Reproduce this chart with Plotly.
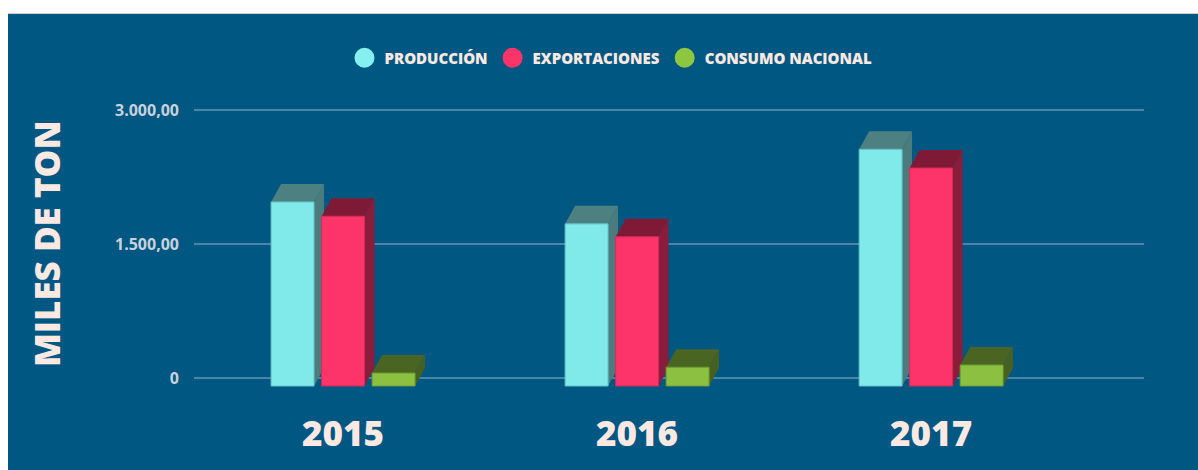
import plotly.graph_objects as go

# ---- data (miles de toneladas) ----
years = ["2015", "2016", "2017"]
series_names = ["PRODUCCIÓN", "EXPORTACIONES", "CONSUMO NACIONAL"]
produccion = [2060, 1815, 2650]
exportaciones = [1900, 1670, 2440]
consumo_nacional = [145, 210, 235]
y_tick_values = [0, 1500, 3000]
y_tick_labels = ["0", "1.500,00", "3.000,00"]

series_values = [produccion, exportaciones, consumo_nacional]

# ---- styling ----
BG_BLUE = "#005782"
GRID = "#4a85a8"
TEXT_LIGHT = "#fde9e2"
TICK_GREY = "#c8d2db"
FONT = "Open Sans"

FRONT = ["#80e9e9", "#fd3469", "#8bc040"]
EDGE = ["#62c4c8", "#d82a5a", "#6f9c30"]
TOP = ["#4d8081", "#7f1a36", "#4a6522"]
SIDE = ["#4a7c7d", "#8a1c3c", "#456020"]
LEGEND_DOT = ["#86eff0", "#fd3469", "#8dc63f"]

W, H = 1198, 470
M_L, M_R, M_T, M_B = 194, 54, 90, 60
X_RANGE = [-0.507, 2.724]
Y_RANGE = [-358.2, 3224.0]
plot_w = W - M_L - M_R
plot_h = H - M_T - M_B
px_per_x = plot_w / (X_RANGE[1] - X_RANGE[0])
px_per_y = plot_h / (Y_RANGE[1] - Y_RANGE[0])

BAR_PITCH = 0.1718
BAR_WIDTH = 0.146
DEPTH_DX = 10 / px_per_x      # 3D depth, horizontal
DEPTH_DY = 18 / px_per_y      # 3D depth, vertical
BASE = -8 / px_per_y          # front faces sit slightly in front of the floor


def paper_x(px):
    return (px - M_L) / plot_w


def paper_y(py):
    return 1 - (py - M_T) / plot_h


group_x = list(range(len(years)))

fig = go.Figure()
shapes = []

# framed blue panel
shapes.append(dict(type="rect", xref="paper", yref="paper",
                   x0=paper_x(8), x1=paper_x(W + 2), y0=paper_y(H + 2), y1=paper_y(14),
                   fillcolor=BG_BLUE, line=dict(width=0), layer="below"))
shapes.append(dict(type="line", xref="paper", yref="paper",
                   x0=paper_x(8), x1=paper_x(W + 2), y0=paper_y(13.5), y1=paper_y(13.5),
                   line=dict(color="#d0d0d0", width=1), layer="below"))

for i, (name, vals) in enumerate(zip(series_names, series_values)):
    offset = (i - 1) * BAR_PITCH - BAR_WIDTH / 2
    fig.add_trace(go.Bar(
        x=group_x, y=vals, base=BASE, width=BAR_WIDTH, offset=offset,
        marker=dict(color=FRONT[i], line=dict(color=EDGE[i], width=1)),
        name=name, showlegend=False, hoverinfo="skip",
    ))
    # top and side faces of each bar
    for gx, v in zip(group_x, vals):
        x0 = gx + offset
        x1 = x0 + BAR_WIDTH
        top = BASE + v
        side_path = (f"M {x1},{BASE} L {x1},{top} L {x1 + DEPTH_DX},{top + DEPTH_DY} "
                     f"L {x1 + DEPTH_DX},{BASE + DEPTH_DY} Z")
        top_path = (f"M {x0},{top} L {x1},{top} L {x1 + DEPTH_DX},{top + DEPTH_DY} "
                    f"L {x0 + DEPTH_DX},{top + DEPTH_DY} Z")
        shapes.append(dict(type="path", xref="x", yref="y", path=side_path,
                           fillcolor=SIDE[i], line=dict(width=0), layer="between"))
        shapes.append(dict(type="path", xref="x", yref="y", path=top_path,
                           fillcolor=TOP[i], line=dict(width=0), layer="between"))

# legend entries with round markers (outline widens the dot)
for i, name in enumerate(series_names):
    fig.add_trace(go.Scatter(
        x=[None], y=[None], mode="markers", name=name,
        marker=dict(symbol="circle", size=16, color=LEGEND_DOT[i],
                    line=dict(color=LEGEND_DOT[i], width=4)),
    ))

fig.update_layout(
    width=W, height=H,
    margin=dict(l=M_L, r=M_R, t=M_T, b=M_B),
    paper_bgcolor="white",
    plot_bgcolor="rgba(0,0,0,0)",
    barmode="overlay",
    shapes=shapes,
    showlegend=True,
    legend=dict(
        orientation="h", x=paper_x(611), xanchor="center",
        y=paper_y(58), yanchor="middle",
        font=dict(family=FONT, size=15, color=TEXT_LIGHT, weight=800),
        bgcolor="rgba(0,0,0,0)", itemclick=False, itemdoubleclick=False,
    ),
    xaxis=dict(
        range=X_RANGE, tickmode="array", tickvals=group_x, ticktext=years,
        showgrid=False, zeroline=False, showline=False, ticks="",
        tickfont=dict(family=FONT, size=35, color=TEXT_LIGHT, weight=800),
        fixedrange=True,
    ),
    yaxis=dict(
        range=Y_RANGE, tickmode="array", tickvals=y_tick_values, ticktext=y_tick_labels,
        showgrid=True, gridcolor=GRID, gridwidth=2,
        zeroline=True, zerolinecolor=GRID, zerolinewidth=2,
        showline=False, ticks="", ticklabelstandoff=14,
        tickfont=dict(family=FONT, size=16, color=TICK_GREY, weight=700),
        fixedrange=True,
    ),
    annotations=[dict(
        text="MILES DE TON", textangle=-90, showarrow=False,
        xref="paper", yref="paper", x=paper_x(46), y=paper_y(244),
        xanchor="center", yanchor="middle",
        font=dict(family=FONT, size=35, color=TEXT_LIGHT, weight=800),
    )],
)

fig.write_html("out.html")
